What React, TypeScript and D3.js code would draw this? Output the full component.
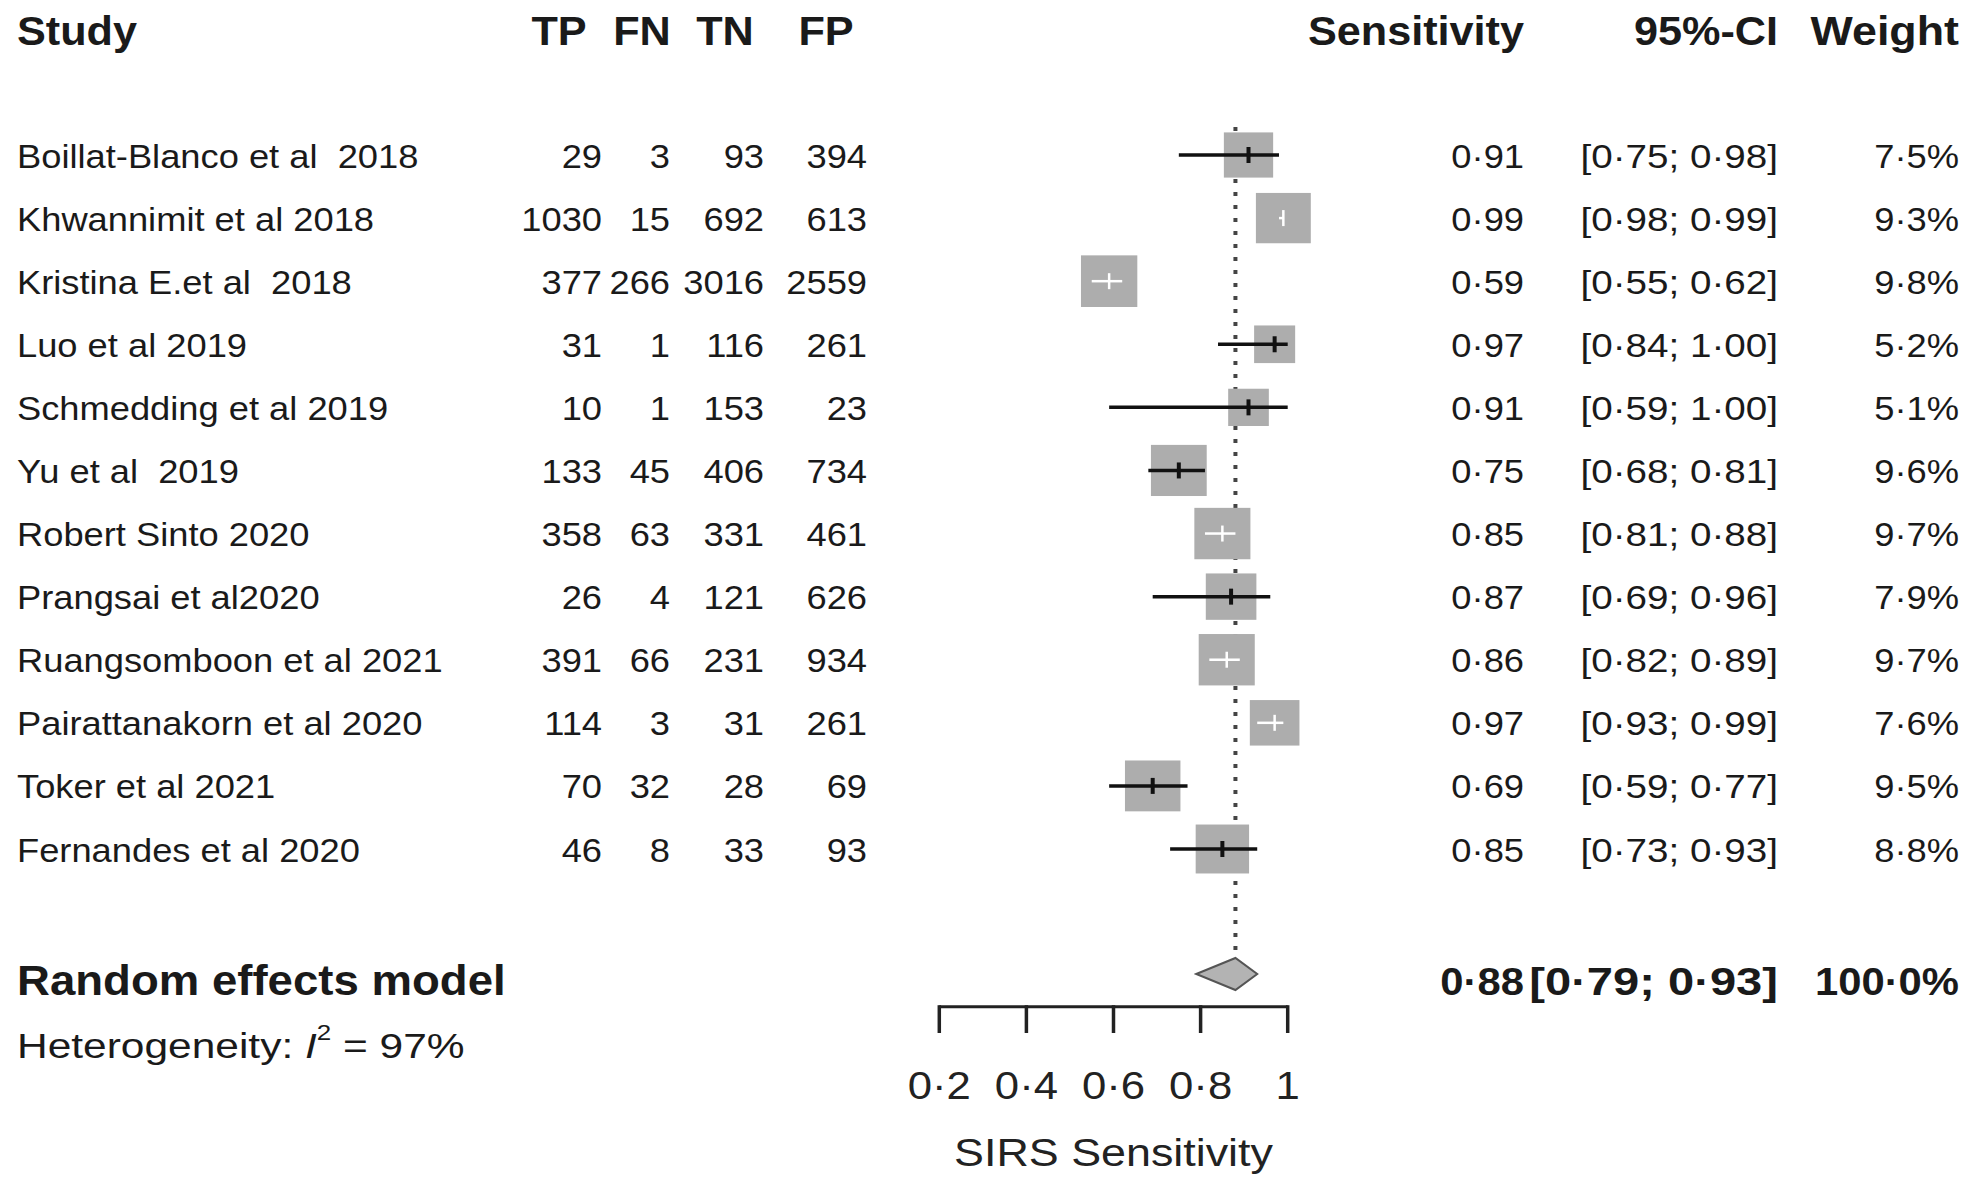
import React from 'react';
import * as d3 from 'd3';

const studies = [
  'Boillat-Blanco et al  2018',
  'Khwannimit et al 2018',
  'Kristina E.et al  2018',
  'Luo et al 2019',
  'Schmedding et al 2019',
  'Yu et al  2019',
  'Robert Sinto 2020',
  'Prangsai et al2020',
  'Ruangsomboon et al 2021',
  'Pairattanakorn et al 2020',
  'Toker et al 2021',
  'Fernandes et al 2020',
];
const tp = [29, 1030, 377, 31, 10, 133, 358, 26, 391, 114, 70, 46];
const fn = [3, 15, 266, 1, 1, 45, 63, 4, 66, 3, 32, 8];
const tn = [93, 692, 3016, 116, 153, 406, 331, 121, 231, 31, 28, 33];
const fp = [394, 613, 2559, 261, 23, 734, 461, 626, 934, 261, 69, 93];
const sens = [0.91, 0.99, 0.59, 0.97, 0.91, 0.75, 0.85, 0.87, 0.86, 0.97, 0.69, 0.85];
const ciLower = [0.75, 0.98, 0.55, 0.84, 0.59, 0.68, 0.81, 0.69, 0.82, 0.93, 0.59, 0.73];
const ciUpper = [0.98, 0.99, 0.62, 1.0, 1.0, 0.81, 0.88, 0.96, 0.89, 0.99, 0.77, 0.93];
const weights = [7.5, 9.3, 9.8, 5.2, 5.1, 9.6, 9.7, 7.9, 9.7, 7.6, 9.5, 8.8];

const pooledEst = 0.88;
const pooledLower = 0.79;
const pooledUpper = 0.93;
const pooledWeight = 100.0;
const i2Value = 97;

const axisTicks = [0.2, 0.4, 0.6, 0.8, 1.0];
const axisTickLabels = ['0·2', '0·4', '0·6', '0·8', '1'];
const axisTitle = 'SIRS Sensitivity';

const FONT = '"Liberation Sans", Arial, Helvetica, sans-serif';
const fmt2 = (v: number) => v.toFixed(2).replace('.', '·');
const fmtW = (v: number) => v.toFixed(1).replace('.', '·') + '%';

type TProps = {
  x: number; y: number; size: number; sx?: number; bold?: boolean;
  anchor?: 'start' | 'middle' | 'end'; fill?: string; children: React.ReactNode;
};
const T = ({ x, y, size, sx = 1, bold, anchor = 'start', fill = '#1a1a1a', children }: TProps) => (
  <text
    transform={`translate(${x},${y}) scale(${sx},1)`}
    fontSize={size}
    fontWeight={bold ? 700 : 400}
    textAnchor={anchor}
    fill={fill}
    fontFamily={FONT}
    style={{ whiteSpace: 'pre' }}
  >
    {children}
  </text>
);

export default function App() {
  const W = 1974;
  const H = 1178;
  const x = d3.scaleLinear().domain([0.2, 1.0]).range([939.3, 1287.7]);
  const rows = d3.range(studies.length);
  const y = d3.scalePoint<number>().domain(rows).range([156, 850]);
  const sqW = d3.scaleSqrt().domain([0, 10]).range([0, 18 * Math.sqrt(10)]);
  const sqH = d3.scaleSqrt().domain([0, 10]).range([0, 16.5 * Math.sqrt(10)]);

  const dataSize = 33;
  const dataSx = 1.1;
  const headY = 45;
  const colTP = 602, colFN = 670, colTN = 764, colFP = 867;
  const colSens = 1524, colCI = 1778, colW = 1959;

  const diamondY = 974;
  const diamondH = 16;
  const diamond = d3.line<[number, number]>()([
    [x(pooledLower), diamondY],
    [x(pooledEst), diamondY - diamondH],
    [x(pooledUpper), diamondY],
    [x(pooledEst), diamondY + diamondH],
  ]) + 'Z';

  const axisY = 1006.7;

  return (
    <svg width={W} height={H} style={{ position: 'absolute', left: 0, top: 0, background: '#fff' }}>
      <rect x={0} y={0} width={W} height={H} fill="#fff" />
      {/* Header */}
      <T x={17} y={headY} size={40} sx={1.08} bold>Study</T>
      <T x={559} y={headY} size={40} sx={1.08} bold anchor="middle">TP</T>
      <T x={642} y={headY} size={40} sx={1.08} bold anchor="middle">FN</T>
      <T x={725} y={headY} size={40} sx={1.08} bold anchor="middle">TN</T>
      <T x={826} y={headY} size={40} sx={1.08} bold anchor="middle">FP</T>
      <T x={colSens} y={headY} size={40} sx={1.08} bold anchor="end">Sensitivity</T>
      <T x={colCI} y={headY} size={40} sx={1.08} bold anchor="end">95%-CI</T>
      <T x={colW} y={headY} size={40} sx={1.12} bold anchor="end">Weight</T>

      {/* Reference dotted line */}
      <line x1={x(pooledEst)} x2={x(pooledEst)} y1={127} y2={diamondY - diamondH}
        stroke="#444" strokeWidth={4} strokeDasharray="4 9" />

      {/* Study rows */}
      {rows.map((i) => {
        const yc = y(i)!;
        const ym = yc - 1;
        const tb = yc + 11.5;
        const cx = x(sens[i]);
        const w = sqW(weights[i]);
        const h = sqH(weights[i]);
        const lo = x(ciLower[i]);
        const hi = x(ciUpper[i]);
        const inside = lo >= cx - w / 2 && hi <= cx + w / 2;
        const col = inside ? '#ffffff' : '#111111';
        return (
          <g key={i}>
            <T x={17} y={tb} size={dataSize} sx={dataSx}>{studies[i]}</T>
            <T x={colTP} y={tb} size={dataSize} sx={dataSx} anchor="end">{tp[i]}</T>
            <T x={colFN} y={tb} size={dataSize} sx={dataSx} anchor="end">{fn[i]}</T>
            <T x={colTN} y={tb} size={dataSize} sx={dataSx} anchor="end">{tn[i]}</T>
            <T x={colFP} y={tb} size={dataSize} sx={dataSx} anchor="end">{fp[i]}</T>
            <rect x={cx - w / 2} y={ym - h / 2} width={w} height={h} fill="#adadad" />
            <line x1={lo} x2={hi} y1={ym} y2={ym} stroke={col} strokeWidth={inside ? 2.5 : 3.5} />
            <line x1={cx} x2={cx} y1={ym - 8} y2={ym + 8} stroke={col} strokeWidth={inside ? 2.5 : 4} />
            <T x={colSens} y={tb} size={dataSize} sx={dataSx} anchor="end">{fmt2(sens[i])}</T>
            <T x={colCI} y={tb} size={dataSize} sx={1.17} anchor="end">{`[${fmt2(ciLower[i])}; ${fmt2(ciUpper[i])}]`}</T>
            <T x={colW} y={tb} size={dataSize} sx={dataSx} anchor="end">{fmtW(weights[i])}</T>
          </g>
        );
      })}

      {/* Pooled */}
      <path d={diamond} fill="#b3b3b3" stroke="#555" strokeWidth={2} />
      <T x={17} y={995} size={43} sx={1.06} bold>Random effects model</T>
      <T x={colSens} y={995} size={38} sx={1.1} bold anchor="end">{fmt2(pooledEst)}</T>
      <T x={colCI} y={995} size={38} sx={1.24} bold anchor="end">{`[${fmt2(pooledLower)}; ${fmt2(pooledUpper)}]`}</T>
      <T x={colW} y={995} size={38} sx={1.1} bold anchor="end">{fmtW(pooledWeight)}</T>

      <text transform="translate(17,1058) scale(1.18,1)" fontSize={36} fontFamily={FONT} fill="#1a1a1a" style={{ whiteSpace: 'pre' }}>
        Heterogeneity: <tspan fontStyle="italic">I</tspan><tspan fontSize={22} dy={-18}>2</tspan><tspan dy={18}>{` = ${i2Value}%`}</tspan>
      </text>

      {/* Axis */}
      <line x1={x(0.2)} x2={x(1.0)} y1={axisY} y2={axisY} stroke="#222" strokeWidth={3} />
      {axisTicks.map((t, k) => (
        <g key={t}>
          <line x1={x(t)} x2={x(t)} y1={axisY - 1.5} y2={1033} stroke="#222" strokeWidth={3.5} />
          <T x={x(t)} y={1099} size={38} sx={1.15} anchor="middle" fill="#222">{axisTickLabels[k]}</T>
        </g>
      ))}
      <T x={x(0.6)} y={1166} size={38} sx={1.18} anchor="middle" fill="#222">{axisTitle}</T>
    </svg>
  );
}
